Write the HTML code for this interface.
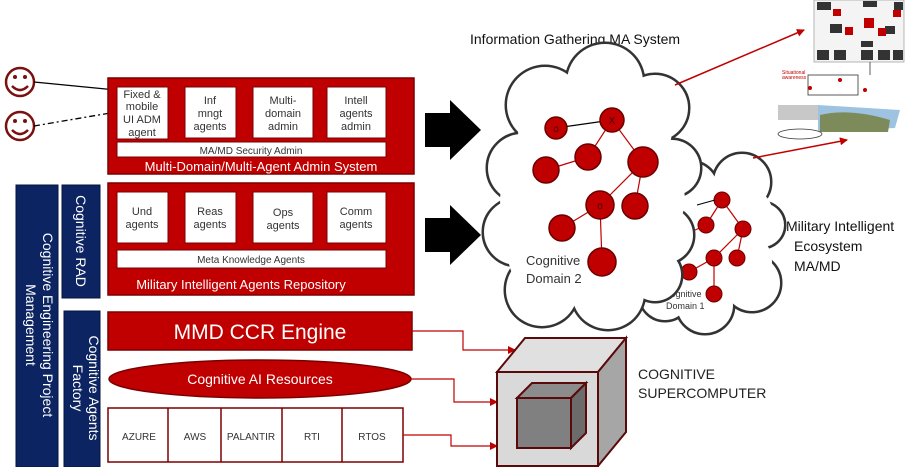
<!DOCTYPE html>
<html><head><meta charset="utf-8"><style>
html,body{margin:0;padding:0;background:#fff;}
svg{display:block;font-family:"Liberation Sans",sans-serif;}
</style></head><body>
<svg width="923" height="467" viewBox="0 0 923 467" xmlns="http://www.w3.org/2000/svg">
<defs>
<marker id="ar" markerWidth="8" markerHeight="8" refX="7" refY="4" orient="auto" markerUnits="userSpaceOnUse"><path d="M0,0 L8,4 L0,8z" fill="#c00000"/></marker>
</defs>
<g fill="none" stroke="#7a1010" stroke-width="2.5">
<circle cx="20" cy="82" r="14"/><circle cx="20" cy="126" r="14"/>
<path d="M12,86 Q20,94 28,86"/><path d="M12,130 Q20,138 28,130"/>
</g>
<g fill="#7a1010"><circle cx="15" cy="77" r="2"/><circle cx="25" cy="77" r="2"/><circle cx="15" cy="121" r="2"/><circle cx="25" cy="121" r="2"/></g>
<line x1="34" y1="82" x2="116" y2="90" stroke="#000" stroke-width="1.3"/>
<line x1="34" y1="126" x2="116" y2="112" stroke="#000" stroke-width="1.3" stroke-dasharray="6,3,2,3"/>
<rect x="108" y="78" width="306" height="96" fill="#c00000" stroke="#7a0000" stroke-width="1.5"/>
<g fill="#fff" stroke="#7a0000"><rect x="117" y="87" width="51" height="52"/><rect x="185" y="87" width="51" height="51"/><rect x="253" y="87" width="60" height="51"/><rect x="327" y="87" width="59" height="51"/><rect x="117" y="142" width="269" height="15"/></g>
<g font-size="11" fill="#333" text-anchor="middle">
<text x="142" y="98">Fixed &amp;</text><text x="142" y="110">mobile</text><text x="142" y="123">UI ADM</text><text x="142" y="136">agent</text>
<text x="210" y="104">Inf</text><text x="210" y="117">mngt</text><text x="210" y="130">agents</text>
<text x="283" y="104">Multi-</text><text x="283" y="117">domain</text><text x="283" y="130">admin</text>
<text x="356" y="104">Intell</text><text x="356" y="117">agents</text><text x="356" y="130">admin</text>
<text x="251" y="154" font-size="10">MA/MD Security Admin</text>
</g>
<text x="261" y="171" font-size="13" fill="#fff" text-anchor="middle">Multi-Domain/Multi-Agent Admin System</text>
<rect x="108" y="183" width="306" height="112" fill="#c00000" stroke="#7a0000" stroke-width="1.5"/>
<g fill="#fff" stroke="#7a0000"><rect x="117" y="192" width="51" height="51"/><rect x="185" y="192" width="51" height="51"/><rect x="253" y="192" width="60" height="51"/><rect x="327" y="192" width="59" height="51"/><rect x="117" y="250" width="269" height="18"/></g>
<g font-size="11" fill="#333" text-anchor="middle">
<text x="142" y="215">Und</text><text x="142" y="228">agents</text>
<text x="210" y="215">Reas</text><text x="210" y="228">agents</text>
<text x="283" y="216">Ops</text><text x="283" y="229">agents</text>
<text x="356" y="215">Comm</text><text x="356" y="228">agents</text>
<text x="251" y="263" font-size="10">Meta Knowledge Agents</text>
</g>
<text x="241" y="289" font-size="13" fill="#fff" text-anchor="middle">Military Intelligent Agents Repository</text>
<rect x="16" y="185" width="42" height="282" fill="#0c2461" stroke="#061540"/>
<rect x="62" y="185" width="38" height="113" fill="#0c2461" stroke="#061540"/>
<rect x="64" y="311" width="36" height="156" fill="#0c2461" stroke="#061540"/>
<g fill="#fff" font-size="14" text-anchor="middle">
<text transform="translate(43,325) rotate(90)">Cognitive Engineering Project</text>
<text transform="translate(26,325) rotate(90)">Management</text>
<text transform="translate(76,241) rotate(90)">Cognitive RAD</text>
<text transform="translate(89,388) rotate(90)">Cognitive  Agents</text>
<text transform="translate(73,388) rotate(90)">Factory</text>
</g>
<rect x="108" y="312" width="304" height="38" fill="#c00000" stroke="#7a0000" stroke-width="1.5"/>
<text x="260" y="339" font-size="21" fill="#fff" text-anchor="middle">MMD CCR Engine</text>
<ellipse cx="260" cy="379" rx="151" ry="19" fill="#c00000" stroke="#7a0000" stroke-width="1.5"/>
<text x="260" y="384" font-size="14" fill="#fff" text-anchor="middle">Cognitive AI Resources</text>
<rect x="108" y="408" width="295" height="54" fill="#fff" stroke="#7a0000" stroke-width="1.5"/>
<g stroke="#7a0000" stroke-width="1.5"><line x1="168" y1="408" x2="168" y2="462"/><line x1="221" y1="408" x2="221" y2="462"/><line x1="282" y1="408" x2="282" y2="462"/><line x1="342" y1="408" x2="342" y2="462"/></g>
<g font-size="10" fill="#333" text-anchor="middle"><text x="139" y="440">AZURE</text><text x="195" y="440">AWS</text><text x="251" y="440">PALANTIR</text><text x="312" y="440">RTI</text><text x="372" y="440">RTOS</text></g>
<g fill="none" stroke="#c00000" stroke-width="1.2">
<path d="M412,331 H463 V350 H515" marker-end="url(#ar)"/>
<path d="M411,379 H454 V402 H497" marker-end="url(#ar)"/>
<path d="M403,435 H451 V446 H497" marker-end="url(#ar)"/>
</g>
<g stroke="#5a0a0a" stroke-width="2">
<path d="M497,372 L525,338 L626,338 L598,372Z" fill="#e0e0e0"/>
<path d="M598,372 L626,338 L626,432 L598,466Z" fill="#a6a6a6"/>
<rect x="497" y="372" width="101" height="94" fill="#d9d9d9"/>
<path d="M517,398 L532,383 L586,383 L571,398Z" fill="#8c8c8c"/>
<path d="M571,398 L586,383 L586,433 L571,448Z" fill="#6b6b6b"/>
<rect x="517" y="398" width="54" height="50" fill="#808080"/>
</g>
<text x="638" y="379" font-size="14" fill="#222">COGNITIVE</text>
<text x="638" y="398" font-size="14" fill="#222">SUPERCOMPUTER</text>
<path d="M425,113 H450 V100 L481,130 L450,160 V147 H425Z" fill="#000"/>
<path d="M425,218 H450 V205 L481,235 L450,265 V252 H425Z" fill="#000"/>
<text x="470" y="44" font-size="14" fill="#111">Information Gathering MA System</text>
<g fill="none" stroke="#333" stroke-width="5">
<circle cx="690" cy="190" r="28"/><circle cx="742" cy="182" r="28"/><circle cx="762" cy="225" r="22"/><circle cx="752" cy="283" r="28"/><circle cx="705" cy="305" r="28"/><circle cx="665" cy="295" r="25"/><circle cx="720" cy="240" r="40"/>
</g>
<g fill="#fff">
<circle cx="690" cy="190" r="28"/><circle cx="742" cy="182" r="28"/><circle cx="762" cy="225" r="22"/><circle cx="752" cy="283" r="28"/><circle cx="705" cy="305" r="28"/><circle cx="665" cy="295" r="25"/><circle cx="720" cy="240" r="40"/>
<circle cx="700" cy="220" r="32"/><circle cx="740" cy="262" r="32"/><circle cx="700" cy="280" r="32"/><circle cx="745" cy="215" r="28"/>
</g>
<g stroke="#c00000" stroke-width="1.2"><line x1="722" y1="200" x2="706" y2="225"/><line x1="722" y1="200" x2="743" y2="229"/><line x1="743" y1="229" x2="714" y2="258"/><line x1="714" y1="258" x2="689" y2="272"/><line x1="714" y1="258" x2="714" y2="294"/><line x1="706" y1="225" x2="680" y2="237"/><line x1="743" y1="229" x2="737" y2="258"/></g>
<g fill="#c00000" stroke="#6a0000"><circle cx="722" cy="200" r="8"/><circle cx="706" cy="225" r="8"/><circle cx="743" cy="229" r="8"/><circle cx="714" cy="258" r="8"/><circle cx="737" cy="258" r="8"/><circle cx="689" cy="272" r="8"/><circle cx="714" cy="294" r="8"/><circle cx="680" cy="237" r="8"/></g>
<text x="664" y="297" font-size="9" fill="#333">Cognitive</text><text x="666" y="309" font-size="9" fill="#333">Domain 1</text>
<g fill="none" stroke="#333" stroke-width="5">
<circle cx="545" cy="105" r="38"/><circle cx="605" cy="82" r="38"/><circle cx="655" cy="108" r="33"/><circle cx="522" cy="168" r="34"/><circle cx="672" cy="168" r="28"/><circle cx="517" cy="232" r="33"/><circle cx="665" cy="235" r="28"/><circle cx="542" cy="290" r="36"/><circle cx="608" cy="293" r="36"/><circle cx="655" cy="275" r="26"/><circle cx="592" cy="180" r="62"/><circle cx="592" cy="240" r="60"/>
</g>
<g fill="#fff">
<circle cx="545" cy="105" r="38"/><circle cx="605" cy="82" r="38"/><circle cx="655" cy="108" r="33"/><circle cx="522" cy="168" r="34"/><circle cx="672" cy="168" r="28"/><circle cx="517" cy="232" r="33"/><circle cx="665" cy="235" r="28"/><circle cx="542" cy="290" r="36"/><circle cx="608" cy="293" r="36"/><circle cx="655" cy="275" r="26"/><circle cx="592" cy="180" r="62"/><circle cx="592" cy="240" r="60"/>
<circle cx="560" cy="130" r="42"/><circle cx="630" cy="130" r="42"/><circle cx="550" cy="255" r="42"/><circle cx="630" cy="255" r="42"/><circle cx="540" cy="200" r="40"/><circle cx="645" cy="200" r="40"/>
</g>
<line x1="697" y1="205" x2="715" y2="200" stroke="#000" stroke-width="1"/>
<g stroke="#c00000" stroke-width="1.2"><line x1="612" y1="120" x2="588" y2="157"/><line x1="612" y1="120" x2="643" y2="162"/><line x1="588" y1="157" x2="546" y2="170"/><line x1="643" y1="162" x2="600" y2="205"/><line x1="643" y1="162" x2="635" y2="206"/><line x1="600" y1="205" x2="562" y2="228"/><line x1="600" y1="205" x2="602" y2="262"/></g>
<line x1="556" y1="128" x2="612" y2="120" stroke="#000" stroke-width="1.2"/>
<g fill="#c00000" stroke="#6a0000" stroke-width="1.5"><circle cx="556" cy="128" r="11"/><circle cx="612" cy="120" r="12"/><circle cx="588" cy="157" r="13"/><circle cx="546" cy="170" r="13"/><circle cx="643" cy="162" r="15"/><circle cx="600" cy="205" r="14"/><circle cx="635" cy="206" r="13"/><circle cx="562" cy="228" r="13"/><circle cx="602" cy="262" r="14"/></g>
<g font-size="10" fill="#4a0000" text-anchor="middle"><text x="556" y="132">o</text><text x="612" y="124">X</text><text x="600" y="209">o</text></g>
<text x="526" y="265" font-size="13" fill="#333">Cognitive</text><text x="526" y="283" font-size="13" fill="#333">Domain 2</text>
<g font-size="14" fill="#111"><text x="786" y="231">Military Intelligent</text><text x="794" y="251">Ecosystem</text><text x="794" y="271">MA/MD</text></g>
<g stroke="#c00000" stroke-width="1.5" fill="none"><line x1="675" y1="85" x2="804" y2="30" marker-end="url(#ar)"/><line x1="753" y1="158" x2="847" y2="140" marker-end="url(#ar)"/></g>
<rect x="814" y="0" width="90" height="62" fill="#f4f4f4" stroke="#888" stroke-width="0.6"/>
<g fill="#333"><rect x="817" y="2" width="14" height="8"/><rect x="863" y="1" width="14" height="6"/><rect x="894" y="2" width="9" height="8"/><rect x="830" y="24" width="12" height="9"/><rect x="885" y="26" width="10" height="8"/><rect x="861" y="41" width="12" height="6"/><rect x="817" y="50" width="12" height="10"/><rect x="834" y="50" width="12" height="10"/><rect x="861" y="50" width="12" height="10"/><rect x="878" y="50" width="12" height="10"/><rect x="893" y="50" width="10" height="10"/></g>
<g fill="#c00000"><rect x="833" y="9" width="8" height="7"/><rect x="893" y="10" width="8" height="7"/><rect x="864" y="18" width="10" height="10"/><rect x="845" y="27" width="8" height="8"/><rect x="878" y="28" width="8" height="8"/></g>
<rect x="778" y="105" width="40" height="15" fill="#c8c8c8"/>
<path d="M818,105 L900,110 L895,128 L818,132Z" fill="#9ec3e0"/>
<path d="M820,115 Q850,108 890,120 L888,132 L820,132Z" fill="#7d8a5a"/>
<ellipse cx="800" cy="134" rx="22" ry="5" fill="#fff" stroke="#333" stroke-width="0.8"/>
<g fill="#c00000" font-size="5"><text x="782" y="74">Situational</text><text x="782" y="79">awareness</text></g>
<g stroke="#333" stroke-width="0.8" fill="none"><rect x="808" y="75" width="50" height="20"/><line x1="870" y1="62" x2="870" y2="75"/></g>
<g fill="#c00000"><circle cx="810" cy="88" r="2"/><circle cx="840" cy="80" r="2"/><circle cx="865" cy="90" r="2"/></g>
</svg>
</body></html>
